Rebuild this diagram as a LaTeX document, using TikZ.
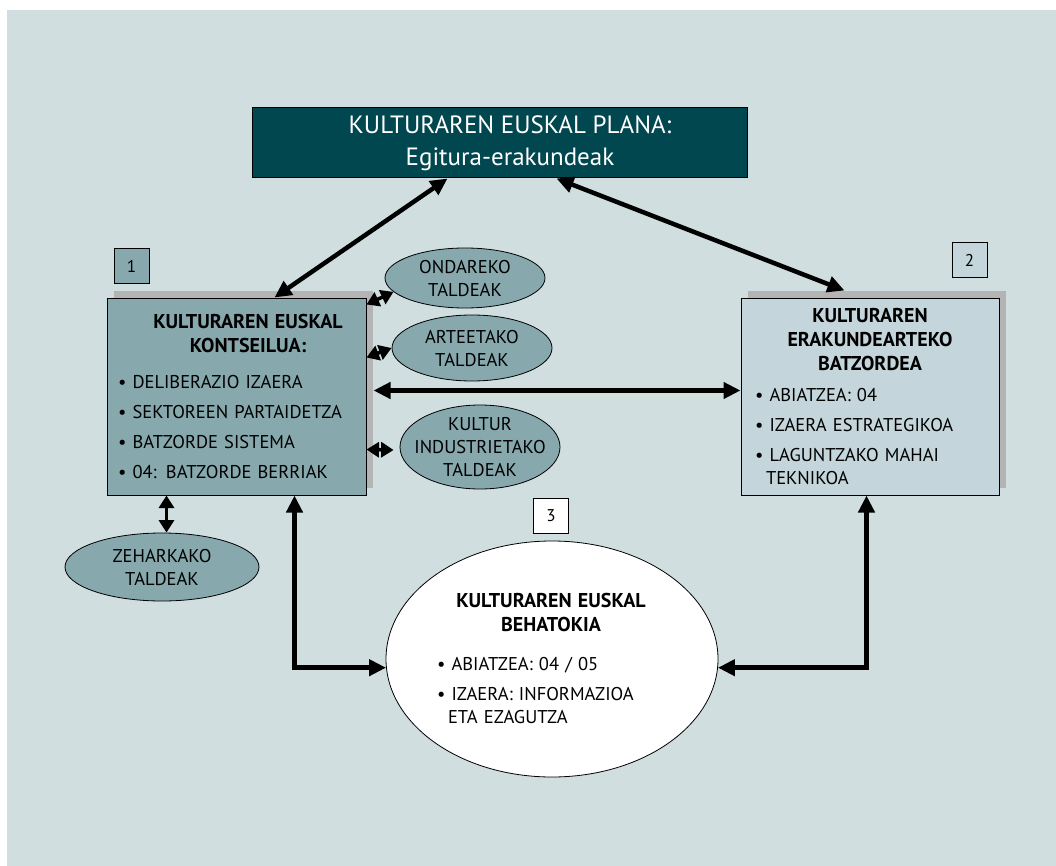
\documentclass[tikz,border=0pt]{standalone}
\usepackage{fontspec}
\setmainfont{PT Sans}
\usetikzlibrary{arrows.meta,shapes.geometric,shadows}

\definecolor{hondoa}{HTML}{D0DEDF}
\definecolor{kutxa}{HTML}{87A9AE}
\definecolor{argia}{HTML}{C4D6DB}
\definecolor{plana}{HTML}{01474F}
\definecolor{itzala}{HTML}{B4B4B4}

\newcommand{\buru}{\fontsize{20}{24}\bfseries}

\begin{document}
\begin{tikzpicture}[x=1pt,y=-1pt,
    every node/.style={font=\fontsize{18.5}{23}\selectfont},
    kbox/.style={rectangle,draw=black,line width=1pt,inner ysep=0pt,
      drop shadow={shadow xshift=7pt,shadow yshift=7pt,opacity=1,fill=itzala}},
    taldea/.style={ellipse,draw=black,line width=0.8pt,fill=kutxa,inner sep=-12pt,align=center},
    zenb/.style={rectangle,draw=black,line width=1pt,minimum width=35pt,minimum height=35pt,
      inner sep=0pt,font=\fontsize{17}{17}\selectfont},
    gezi/.style={line width=4.5pt,{Triangle[length=17pt,width=16pt]}-{Triangle[length=17pt,width=16pt]}},
    gezit/.style={line width=3.5pt,{Triangle[length=12.5pt,width=15pt]}-{Triangle[length=12.5pt,width=15pt]}}]

  \useasboundingbox (0,0) rectangle (1056,866);
  \fill[hondoa] (7,10) rectangle (1056,866);

  % goiko kutxa
  \node[rectangle,draw=black,line width=1pt,fill=plana,text=white,minimum width=495pt,
    minimum height=70pt,align=center,font=\fontsize{25}{32}\selectfont] (plana) at (499.5,143)
    {\hspace*{21pt}KULTURAREN EUSKAL PLANA:\\ \hspace*{21pt}Egitura-erakundeak};

  % kontseilua
  \node[kbox,fill=kutxa,minimum width=259pt,minimum height=197pt,inner xsep=11pt,text width=237pt] (kek) at (236.5,396.5)
    {{\buru\centering\leftskip=23pt plus 1fil KULTURAREN EUSKAL\\ KONTSEILUA:\par}
     \vspace{13pt}
     \textbullet\ DELIBERAZIO IZAERA\\[7pt]
     \textbullet\ SEKTOREEN PARTAIDETZA\\[7pt]
     \textbullet\ BATZORDE SISTEMA\\[7pt]
     \textbullet\ 04: BATZORDE BERRIAK};
  \node[zenb,fill=kutxa] (bat) at (131.5,266.5) {1};

  % erakundearteko batzordea
  \node[kbox,fill=argia,minimum width=258pt,minimum height=197pt,inner xsep=14pt,text width=230pt] (erb) at (870,396.5)
    {{\buru\centering KULTURAREN\\ ERAKUNDEARTEKO\\ BATZORDEA\par}
     \vspace{8pt}
     \textbullet\ ABIATZEA: 04\\[7pt]
     \textbullet\ IZAERA ESTRATEGIKOA\\[7pt]
     \textbullet\ LAGUNTZAKO MAHAI\\ \hspace*{11pt}TEKNIKOA};
  \node[zenb,fill=argia] (bi) at (969.5,260) {2};

  % behatokia
  \node[ellipse,draw=black,line width=0.8pt,fill=white,minimum width=332pt,minimum height=236pt,
    inner sep=0pt] (beh) at (552,659) {};
  \node[text width=228pt,inner sep=0pt] (behtxt) at (551,658)
    {{\buru\centering KULTURAREN EUSKAL\\ BEHATOKIA\par}
     \vspace{16pt}
     \textbullet\ ABIATZEA: 04 / 05\\[7pt]
     \textbullet\ IZAERA: INFORMAZIOA\\ \hspace*{11pt}ETA EZAGUTZA};
  \node[zenb,fill=white] (hiru) at (551,515.5) {3};

  % taldeak
  \node[taldea,minimum width=160pt,minimum height=60pt] (ond) at (465,278) {ONDAREKO\\ TALDEAK};
  \node[taldea,minimum width=160pt,minimum height=66pt] (art) at (472,348) {ARTEETAKO\\ TALDEAK};
  \node[taldea,minimum width=160pt,minimum height=84pt] (kul) at (480,447) {KULTUR\\ INDUSTRIETAKO\\ TALDEAK};
  \node[taldea,minimum width=194pt,minimum height=68pt] (zeh) at (162,567) {ZEHARKAKO\\ TALDEAK};

  % geziak
  \draw[gezi] ([xshift=168pt]kek.north west) -- ([xshift=196pt]plana.south west);
  \draw[gezi] ([xshift=305pt]plana.south west) -- ([xshift=104pt,yshift=7pt]erb.north west);
  \draw[gezi] ([xshift=7pt,yshift=6pt]kek.east) -- ([yshift=6pt]erb.west);
  \draw[gezit] ([yshift=-7pt]kek.north east) -- (ond.191);
  \draw[gezit] ([yshift=-60pt]kek.north east) -- (art.west);
  \draw[gezit] ([yshift=-152pt]kek.north east) -- ([xshift=-6pt,yshift=-3pt]kul.west);
  \draw[gezit] ([xshift=60pt]kek.south west) -- ([xshift=60pt]kek.south west |- zeh.north);
  \draw[gezi] ([xshift=188pt]kek.south west) |- (beh.183);
  \draw[gezi] (beh.-3) -| ([xshift=126pt]erb.south west);
\end{tikzpicture}
\end{document}
